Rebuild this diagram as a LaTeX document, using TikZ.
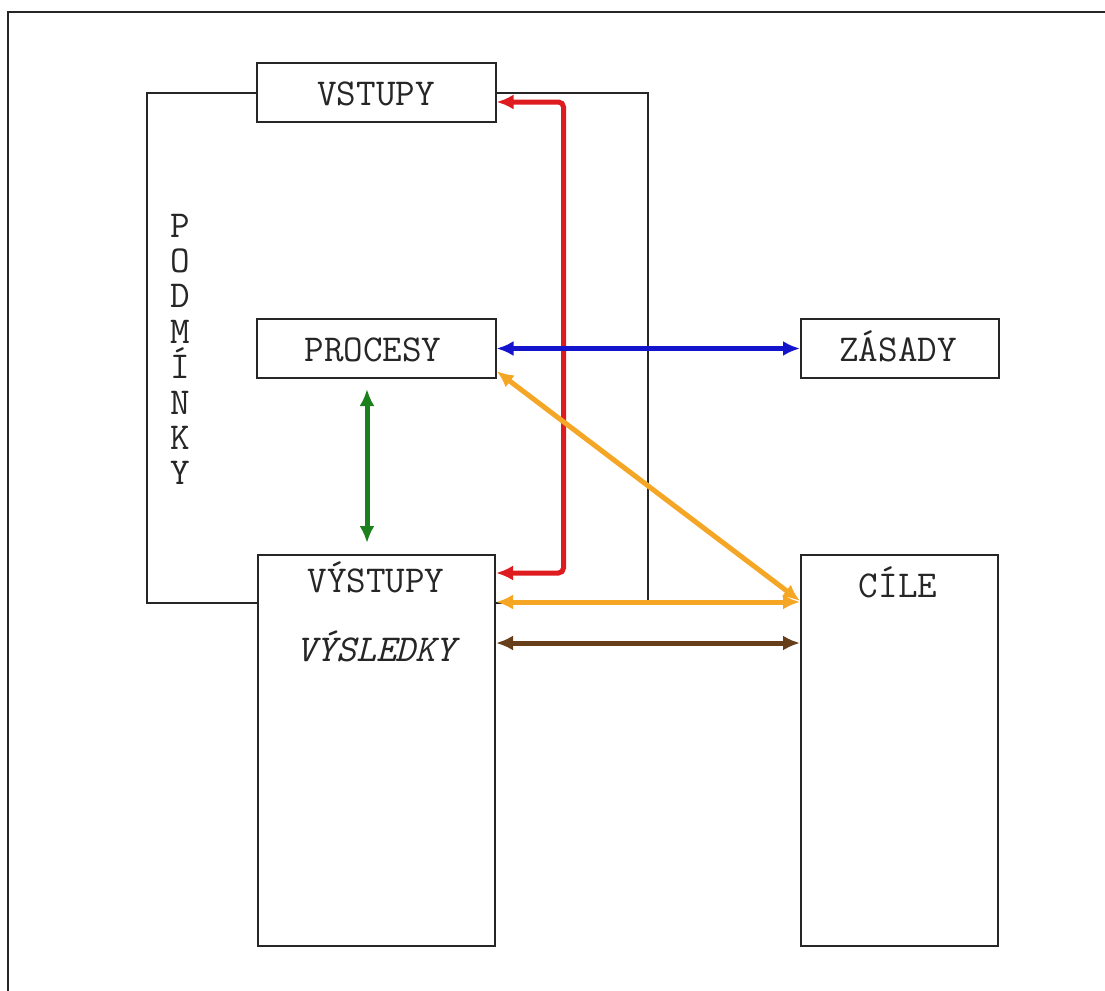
\documentclass[tikz,border=0pt]{standalone}
\usepackage{fontspec}
\usetikzlibrary{arrows.meta}
\definecolor{cred}{RGB}{222,28,32}
\definecolor{cblue}{RGB}{20,20,205}
\definecolor{cgreen}{RGB}{28,128,28}
\definecolor{corange}{RGB}{244,166,36}
\definecolor{cbrown}{RGB}{102,62,26}
\tikzset{
  box/.style={draw=black!85, line width=2pt, fill=white, inner sep=0pt},
  frameline/.style={draw=black!85, line width=2pt},
  txt/.style={font=\ttfamily\fontsize{38}{44}\selectfont, inner sep=0pt, anchor=base, text=black!85},
  conn/.style={line width=5pt, {Latex[length=17pt,width=15pt]}-{Latex[length=17pt,width=15pt]}},
}
\begin{document}
\begin{tikzpicture}[x=1pt,y=-1pt]
\useasboundingbox (0,0) rectangle (1105,990);
\fill[white] (0,0) rectangle (1105,990);
% outer frame (only left and top edges visible)
\coordinate (fbl) at (8,992);
\coordinate (ftl) at (8,12.5);
\coordinate (ftr) at (1107,12.5);
\draw[frameline] (fbl) -- (ftl) -- (ftr);
% PODMINKY frame
\coordinate (ptl) at (147,93);
\coordinate (pbr) at (647.5,603);
\draw[frameline] (ptl) rectangle (pbr);
% boxes
\node[box, minimum width=239pt, minimum height=59pt] (vstupy) at (376,92.5) {};
\node[box, minimum width=239pt, minimum height=59pt] (procesy) at (376,348.5) {};
\node[box, minimum width=198pt, minimum height=59pt] (zasady) at (900,348.5) {};
\node[box, minimum width=237pt, minimum height=391pt] (vystupy) at (376.5,750.5) {};
\node[box, minimum width=197pt, minimum height=391pt] (cile) at (899.5,750.5) {};
% texts
\node[txt] (tvstupy) at (376,105) {VSTUPY};
\node[txt] (tprocesy) at (373,361) {PROCESY};
\node[txt] (tzasady) at (898,361) {ZÁSADY};
\node[txt] (tvystupy) at (376,592) {VÝSTUPY};
\node[txt, font=\ttfamily\itshape\fontsize{38}{44}\selectfont] (tvysledky) at (376,661) {VÝSLEDKY};
\node[txt] (tcile) at (898,597) {CÍLE};
\foreach \l [count=\i] in {P,O,D,M,Í,N,K,Y}
  \node[txt] (pod\i) at (180,{237+35.4*(\i-1)}) {\l};
% connectors
\draw[conn, cred, rounded corners=5pt] ([yshift=-9.5pt]vstupy.east) -- ++(67,0) |- ([yshift=-19pt]vystupy.north east);
\draw[conn, cblue] (procesy.east) -- (zasady.west);
\draw[conn, cgreen, shorten <=10pt, shorten >=11pt] ([xshift=-9pt]procesy.south) -- ([xshift=-9.5pt]vystupy.north);
\draw[conn, corange] ([yshift=8pt]procesy.south east) -- ([yshift=-47pt]cile.north west);
\draw[conn, corange] ([yshift=-48pt]vystupy.north east) -- ([yshift=-48pt]cile.north west);
\draw[conn, cbrown] ([yshift=-89pt]vystupy.north east) -- ([yshift=-89pt]cile.north west);
\end{tikzpicture}
\end{document}
